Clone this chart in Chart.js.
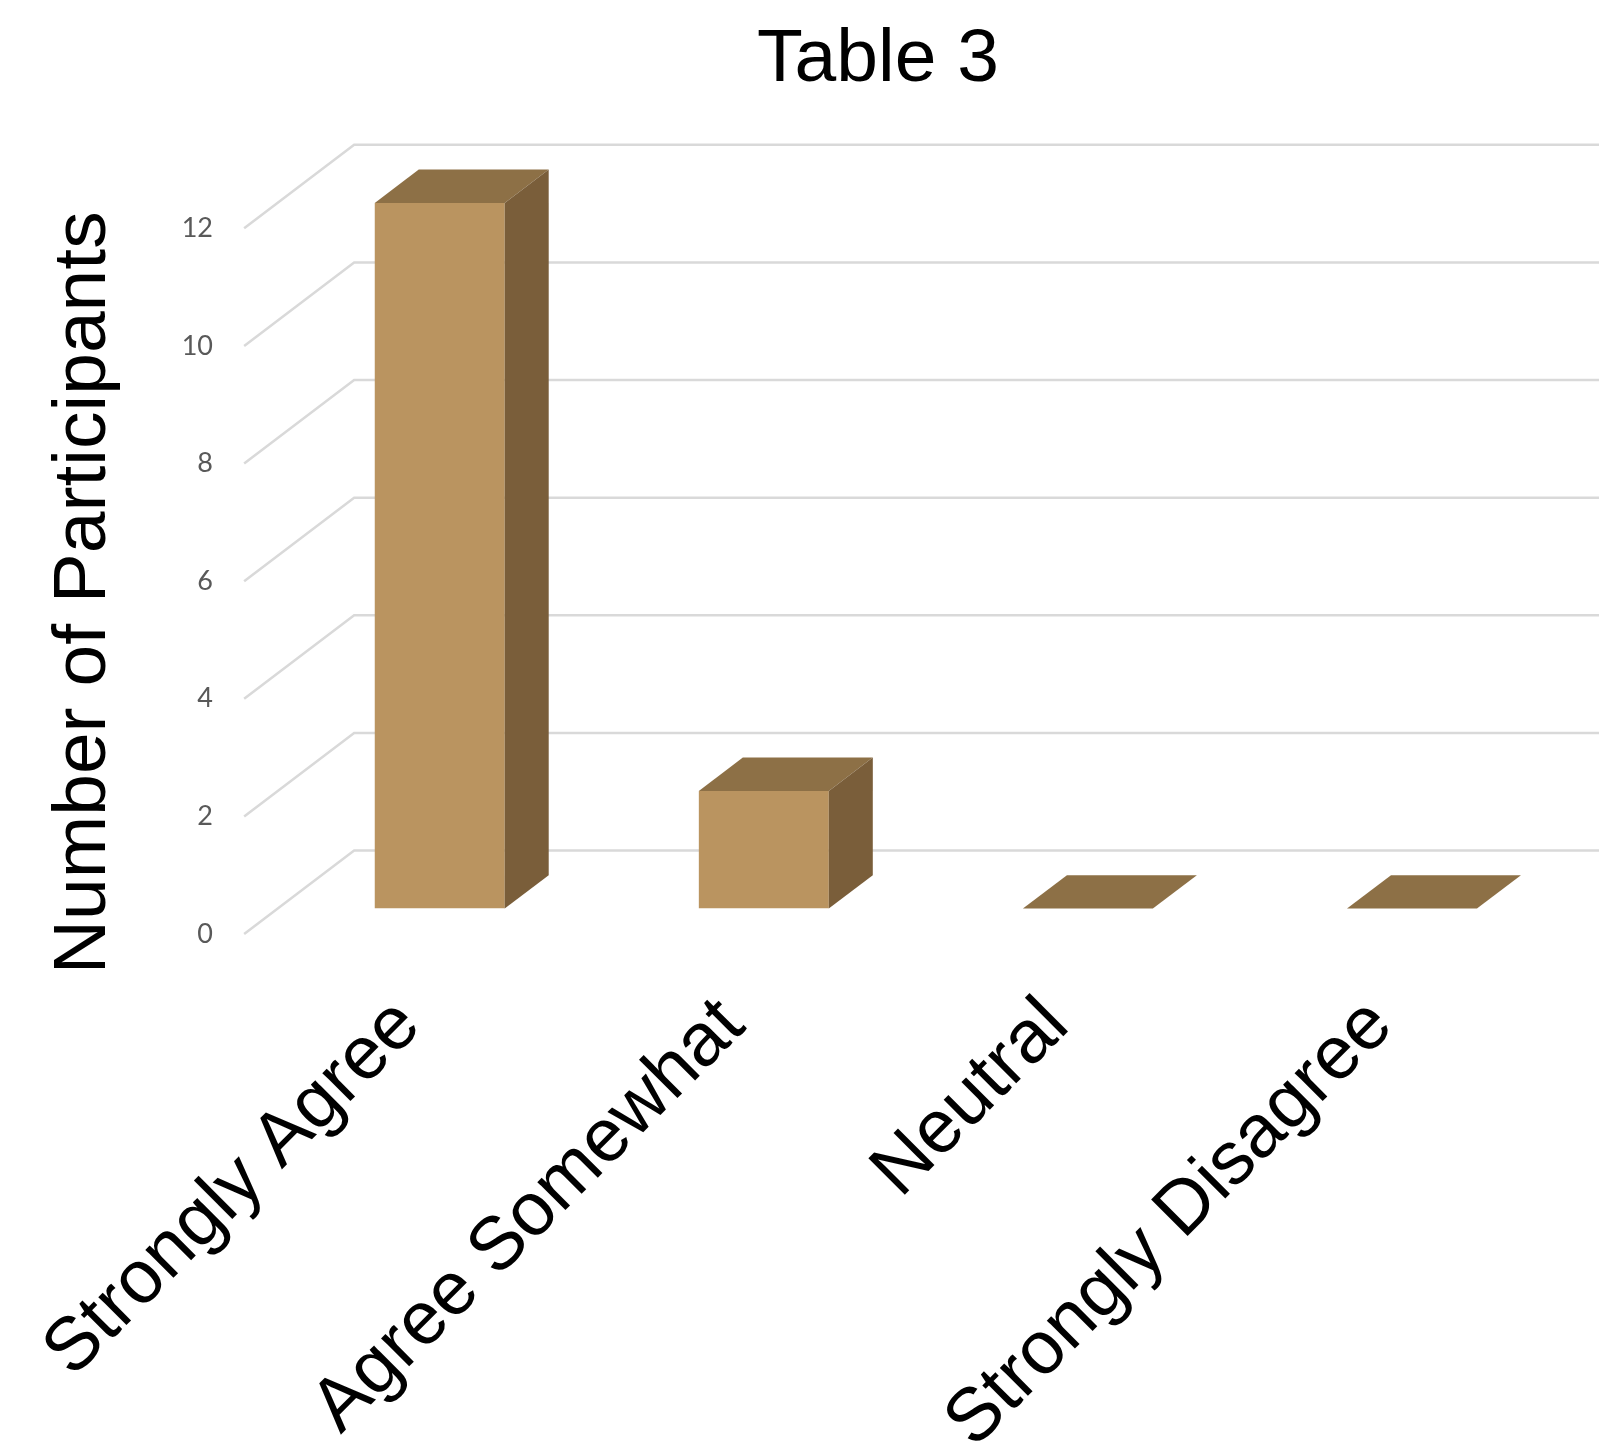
<!DOCTYPE html>
<html>
<head>
<meta charset="utf-8">
<script src="https://cdn.jsdelivr.net/npm/chart.js@4.4.1/dist/chart.umd.min.js"></script>
<style>
  html, body { margin: 0; padding: 0; background: #ffffff; overflow: hidden; }
  canvas { display: block; }
</style>
</head>
<body>
<canvas id="chart" width="1599" height="1447"></canvas>
<script>
// ---- data ----
const categories = ['Strongly Agree', 'Agree Somewhat', 'Neutral', 'Strongly Disagree'];
const participants = [12, 2, 0, 0];
const yTickValues = [0, 2, 4, 6, 8, 10, 12];
const chartTitle = 'Table 3';
const yAxisTitle = 'Number of Participants';

// ---- look ----
const FRONT_COLOR = '#BA9460';
const TOP_COLOR = '#8D7046';
const SIDE_COLOR = '#7A5E3A';
const GRID_COLOR = '#D9D9D9';
const TEXT_FONT = "'Liberation Sans', Arial, sans-serif";

// Oblique projection of the 3D floor: total depth offset of the floor,
// where the column front faces sit inside it, and how deep a column is.
const DEPTH_X = 110;
const DEPTH_Y = -83.5;
const FRONT_FRAC = 0.305;
const COLUMN_FRAC = 0.40;

const columns3d = {
  id: 'columns3d',
  // back wall and side wall gridlines, one per value tick
  beforeDatasetsDraw(chart) {
    const { ctx, chartArea: area, scales: { y } } = chart;
    const backDx = DEPTH_X * (1 - FRONT_FRAC), backDy = DEPTH_Y * (1 - FRONT_FRAC);
    const frontDx = -DEPTH_X * FRONT_FRAC, frontDy = -DEPTH_Y * FRONT_FRAC;
    ctx.save();
    ctx.strokeStyle = GRID_COLOR;
    ctx.lineWidth = 2.5;
    y.ticks.forEach(t => {
      const py = y.getPixelForValue(t.value);
      ctx.beginPath();
      ctx.moveTo(area.left + frontDx, py + frontDy);
      ctx.lineTo(area.left + backDx, py + backDy);
      ctx.lineTo(chart.width + 20, py + backDy);
      ctx.stroke();
    });
    ctx.restore();
  },
  // top and right side faces of each column
  afterDatasetsDraw(chart) {
    const { ctx } = chart;
    const dx = DEPTH_X * COLUMN_FRAC, dy = DEPTH_Y * COLUMN_FRAC;
    ctx.save();
    chart.getDatasetMeta(0).data.forEach(bar => {
      const { x, y, base, width } = bar.getProps(['x', 'y', 'base', 'width'], true);
      const l = x - width / 2, r = x + width / 2;
      ctx.fillStyle = TOP_COLOR;
      ctx.beginPath();
      ctx.moveTo(l, y);
      ctx.lineTo(r, y);
      ctx.lineTo(r + dx, y + dy);
      ctx.lineTo(l + dx, y + dy);
      ctx.closePath();
      ctx.fill();
      if (base - y > 0.5) {
        ctx.fillStyle = SIDE_COLOR;
        ctx.beginPath();
        ctx.moveTo(r, y);
        ctx.lineTo(r + dx, y + dy);
        ctx.lineTo(r + dx, base + dy);
        ctx.lineTo(r, base);
        ctx.closePath();
        ctx.fill();
      }
    });
    ctx.restore();
  },
  // vertical axis title
  afterDraw(chart) {
    const { ctx, chartArea: area } = chart;
    ctx.save();
    ctx.translate(area.left - 193, (area.top + area.bottom) / 2 + 37);
    ctx.rotate(-Math.PI / 2);
    ctx.font = '75px ' + TEXT_FONT;
    ctx.fillStyle = '#000000';
    ctx.textAlign = 'center';
    ctx.textBaseline = 'middle';
    ctx.fillText(yAxisTitle, 0, 0);
    ctx.restore();
  }
};

new Chart(document.getElementById('chart'), {
  type: 'bar',
  data: {
    labels: categories,
    datasets: [{
      data: participants,
      backgroundColor: FRONT_COLOR,
      borderWidth: 0,
      barPercentage: 0.401,
      categoryPercentage: 1.0
    }]
  },
  options: {
    responsive: false,
    animation: false,
    devicePixelRatio: 1,
    layout: { padding: { left: 157, right: 0, top: 0, bottom: 0 } },
    plugins: {
      legend: { display: false },
      tooltip: { enabled: false },
      title: {
        display: true,
        text: chartTitle,
        color: '#000000',
        font: { family: TEXT_FONT, size: 75, weight: 'normal' },
        padding: { top: 15.3, bottom: 97.6 }
      }
    },
    scales: {
      x: {
        grid: { display: false, drawTicks: false },
        border: { display: false },
        ticks: {
          autoSkip: false,
          minRotation: 45,
          maxRotation: 45,
          padding: 73,
          labelOffset: -31,
          color: '#000000',
          font: { family: TEXT_FONT, size: 75 }
        },
        afterFit(s) { s.height = 538.4; s.paddingLeft = 0; s.paddingRight = 0; }
      },
      y: {
        min: 0,
        max: 12,
        grid: { display: false, drawTicks: false },
        border: { display: false },
        afterBuildTicks(s) { s.ticks = yTickValues.map(v => ({ value: v })); },
        ticks: {
          padding: 64.7,
          labelOffset: 25.4,
          color: '#595959',
          font: { family: "Lato, 'Open Sans', sans-serif", size: 27 }
        },
        afterFit(s) { s.width = 120.7; s.paddingTop = 0; s.paddingBottom = 0; }
      },
      // empty right-hand margin of the plot (the back wall runs on past it)
      margin: {
        position: 'right',
        display: true,
        grid: { display: false, drawTicks: false },
        border: { display: false },
        ticks: { display: false },
        afterFit(s) { s.width = 25; s.paddingTop = 0; s.paddingBottom = 0; }
      }
    }
  },
  plugins: [columns3d]
});
</script>
</body>
</html>
